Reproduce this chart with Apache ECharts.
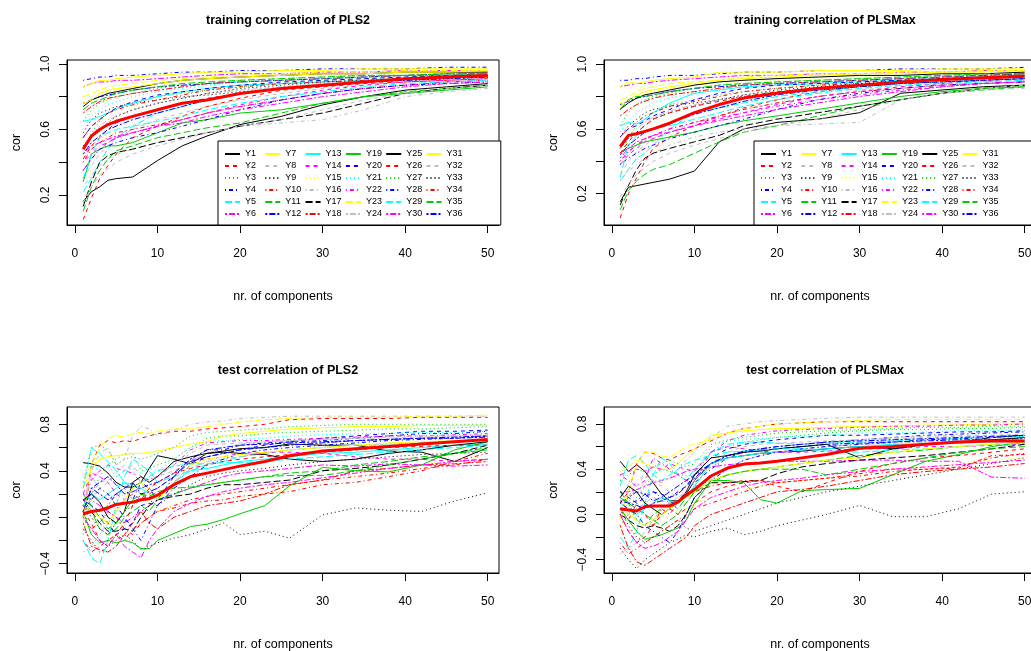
<!DOCTYPE html>
<html>
<head>
<meta charset="utf-8">
<script src="https://cdn.jsdelivr.net/npm/echarts@6/dist/echarts.min.js"></script>
<style>
html,body{margin:0;padding:0;background:#fff;}
#main{width:1031px;height:651px;}
</style>
</head>
<body>
<div id="main"></div>
<script>
var trainComp=[1,2,3,4,5,7,10,13,16,20,25,30,35,40,45,50];
var testComp=[1,2,3,4,5,6,7,8,9,10,12,14,16,18,20,23,26,30,34,38,42,46,50];
var xTicks=[0,10,20,30,40,50];
var trainTicks=[0.2,0.4,0.6,0.8,1.0];
var trainLabels=[0.2,0.6,1.0];
var testTicks=[-0.4,-0.2,0,0.2,0.4,0.6,0.8];
var testLabels=[-0.4,0,0.4,0.8];
var names=['Y1','Y2','Y3','Y4','Y5','Y6','Y7','Y8','Y9','Y10','Y11','Y12','Y13','Y14','Y15','Y16','Y17','Y18',
  'Y19','Y20','Y21','Y22','Y23','Y24','Y25','Y26','Y27','Y28','Y29','Y30','Y31','Y32','Y33','Y34','Y35','Y36'];
var panelTitles=['training correlation of PLS2','training correlation of PLSMax','test correlation of PLS2','test correlation of PLSMax'];

// R palette + lty cycle
var lineColors=['#000000','#FF0000','#00CD00','#0000FF','#00FFFF','#FF00FF','#FFFF00','#BEBEBE'];
var lineDash=['solid',[4,4],[1,3],[1,3,4,3],[7,3],[2,2,6,2]];

// training PLS2 (one row per response Y1..Y36)
var trainPLS2=[
[.16,.22,.25,.29,.30,.31,.41,.50,.56,.63,.68,.75,.80,.84,.86,.88],
[.05,.18,.30,.38,.45,.55,.62,.68,.74,.79,.84,.86,.88,.89,.90,.91],
[.45,.58,.65,.70,.72,.76,.80,.82,.84,.86,.88,.90,.91,.92,.93,.94],
[.90,.91,.92,.92,.93,.93,.94,.95,.95,.96,.96,.97,.97,.97,.98,.98],
[.22,.30,.40,.48,.55,.62,.70,.74,.78,.82,.85,.87,.89,.90,.91,.92],
[.86,.88,.89,.89,.90,.90,.91,.92,.93,.94,.94,.95,.95,.96,.96,.96],
[.86,.88,.90,.90,.91,.92,.93,.94,.95,.95,.96,.96,.97,.97,.97,.97],
[.30,.38,.45,.50,.55,.60,.66,.70,.74,.78,.82,.85,.87,.89,.90,.91],
[.58,.66,.70,.72,.74,.76,.78,.80,.81,.83,.85,.87,.89,.90,.91,.92],
[.40,.48,.52,.55,.58,.60,.63,.66,.70,.74,.78,.82,.85,.87,.89,.90],
[.10,.25,.35,.42,.47,.50,.55,.58,.61,.64,.70,.76,.80,.83,.85,.87],
[.76,.78,.80,.81,.82,.84,.86,.87,.88,.89,.90,.91,.92,.93,.94,.94],
[.65,.66,.68,.70,.73,.76,.80,.83,.85,.87,.88,.89,.90,.91,.92,.93],
[.35,.42,.48,.52,.55,.58,.62,.66,.70,.75,.80,.84,.87,.89,.90,.91],
[.78,.80,.82,.83,.84,.86,.88,.89,.90,.91,.92,.93,.93,.94,.94,.95],
[.25,.32,.38,.42,.45,.48,.52,.55,.58,.62,.64,.66,.72,.80,.83,.85],
[.13,.28,.40,.44,.46,.48,.52,.55,.58,.62,.66,.70,.76,.82,.85,.87],
[.70,.74,.77,.79,.80,.82,.84,.86,.88,.89,.90,.91,.92,.93,.93,.94],
[.28,.45,.48,.50,.50,.52,.58,.64,.66,.70,.72,.76,.80,.82,.84,.86],
[.55,.62,.66,.70,.73,.77,.81,.83,.85,.87,.89,.90,.91,.92,.93,.93],
[.60,.68,.72,.75,.77,.80,.83,.85,.87,.89,.90,.91,.92,.93,.93,.94],
[.40,.45,.50,.52,.55,.58,.62,.66,.70,.74,.78,.82,.85,.87,.89,.90],
[.80,.82,.84,.86,.87,.88,.90,.91,.92,.93,.94,.95,.95,.96,.96,.96],
[.50,.56,.62,.66,.68,.72,.76,.79,.82,.84,.86,.88,.90,.91,.92,.92],
[.74,.78,.80,.82,.83,.85,.88,.90,.91,.92,.93,.94,.94,.95,.95,.95],
[.42,.50,.55,.60,.64,.68,.72,.76,.79,.82,.85,.87,.89,.90,.91,.92],
[.65,.72,.76,.78,.80,.82,.85,.87,.88,.90,.91,.92,.93,.93,.94,.94],
[.35,.42,.48,.50,.52,.55,.58,.62,.66,.72,.78,.82,.85,.87,.88,.89],
[.30,.45,.55,.58,.60,.62,.65,.68,.72,.76,.80,.83,.86,.88,.89,.90],
[.45,.50,.52,.54,.56,.58,.62,.64,.68,.72,.76,.80,.83,.86,.88,.89],
[.76,.78,.82,.84,.85,.86,.88,.90,.91,.92,.93,.94,.94,.95,.95,.96],
[.15,.25,.32,.36,.40,.45,.50,.54,.58,.62,.66,.72,.78,.82,.85,.87],
[.50,.55,.60,.64,.68,.72,.76,.79,.82,.85,.87,.89,.90,.91,.92,.93],
[.55,.62,.66,.70,.72,.75,.78,.81,.84,.86,.88,.89,.90,.91,.92,.93],
[.72,.76,.78,.80,.82,.84,.86,.88,.89,.90,.91,.92,.93,.93,.94,.94],
[.45,.52,.56,.60,.62,.66,.70,.74,.78,.82,.85,.87,.89,.90,.91,.92]
];
var meanTrainPLS2=[.48,.56,.60,.63,.65,.68,.72,.76,.78,.82,.85,.87,.89,.91,.92,.93];

// training PLSMax
var trainPLSMax=[
[.15,.24,.25,.26,.27,.29,.34,.52,.60,.64,.66,.70,.82,.84,.86,.87],
[.05,.20,.30,.40,.48,.55,.62,.68,.73,.78,.83,.86,.88,.89,.90,.91],
[.42,.55,.62,.66,.70,.75,.78,.81,.83,.85,.87,.89,.90,.91,.92,.93],
[.90,.90,.91,.91,.92,.93,.93,.94,.95,.95,.96,.96,.97,.97,.97,.98],
[.28,.35,.42,.45,.50,.60,.70,.73,.76,.80,.83,.86,.88,.89,.90,.91],
[.86,.87,.88,.88,.89,.90,.91,.92,.93,.93,.94,.94,.95,.95,.96,.96],
[.86,.89,.88,.89,.90,.91,.92,.95,.95,.95,.96,.96,.96,.97,.97,.97],
[.32,.40,.46,.50,.54,.58,.64,.68,.72,.76,.80,.84,.86,.88,.89,.90],
[.55,.62,.66,.70,.72,.74,.76,.78,.80,.82,.84,.86,.88,.89,.90,.91],
[.40,.46,.50,.54,.56,.60,.64,.68,.72,.76,.80,.83,.85,.87,.88,.89],
[.10,.22,.28,.32,.35,.38,.45,.52,.58,.62,.68,.74,.78,.82,.84,.86],
[.75,.77,.79,.80,.81,.83,.85,.86,.87,.88,.89,.90,.91,.92,.93,.94],
[.62,.64,.63,.66,.70,.76,.82,.84,.86,.87,.88,.89,.90,.91,.92,.93],
[.38,.44,.48,.52,.54,.58,.62,.66,.70,.75,.80,.83,.86,.88,.90,.91],
[.76,.78,.80,.82,.83,.85,.87,.88,.89,.90,.91,.92,.93,.93,.94,.95],
[.28,.34,.38,.42,.45,.50,.55,.58,.60,.62,.63,.64,.78,.82,.84,.85],
[.13,.25,.35,.42,.45,.48,.52,.56,.62,.66,.70,.74,.78,.82,.85,.87],
[.68,.72,.75,.77,.79,.81,.83,.85,.87,.88,.89,.90,.91,.92,.93,.94],
[.45,.48,.50,.52,.53,.55,.58,.62,.65,.68,.72,.76,.80,.83,.85,.86],
[.55,.60,.62,.65,.68,.72,.78,.82,.85,.87,.88,.89,.90,.91,.92,.93],
[.58,.65,.70,.73,.76,.79,.82,.85,.87,.88,.89,.90,.91,.92,.93,.93],
[.40,.46,.50,.53,.56,.60,.64,.67,.70,.74,.78,.81,.84,.86,.88,.89],
[.78,.80,.83,.85,.86,.88,.89,.90,.92,.93,.94,.94,.95,.95,.96,.96],
[.48,.55,.60,.64,.67,.71,.75,.78,.81,.83,.85,.87,.89,.90,.91,.92],
[.72,.76,.79,.81,.82,.84,.87,.89,.90,.91,.92,.93,.93,.94,.94,.95],
[.45,.52,.58,.62,.66,.70,.74,.77,.80,.83,.85,.87,.89,.90,.91,.92],
[.62,.70,.75,.78,.80,.82,.85,.87,.88,.89,.90,.91,.92,.93,.93,.94],
[.38,.42,.45,.48,.50,.54,.58,.62,.66,.72,.78,.82,.85,.87,.88,.89],
[.30,.50,.56,.58,.60,.62,.66,.70,.74,.78,.82,.85,.87,.88,.89,.90],
[.42,.48,.52,.54,.56,.58,.62,.65,.68,.72,.76,.80,.83,.86,.88,.89],
[.74,.78,.81,.83,.84,.86,.88,.90,.91,.92,.93,.94,.94,.95,.95,.96],
[.18,.26,.32,.36,.40,.45,.50,.54,.58,.62,.66,.72,.78,.82,.85,.87],
[.48,.54,.58,.62,.66,.70,.74,.78,.81,.84,.86,.88,.90,.91,.92,.93],
[.55,.60,.64,.68,.70,.74,.77,.80,.83,.85,.87,.88,.89,.90,.91,.92],
[.72,.78,.80,.80,.81,.83,.85,.87,.88,.89,.90,.91,.92,.93,.94,.94],
[.44,.50,.54,.58,.60,.64,.69,.73,.77,.81,.84,.86,.88,.89,.90,.91]
];
var meanTrainPLSMax=[.49,.56,.57,.585,.60,.635,.70,.75,.79,.82,.85,.87,.89,.905,.915,.925];

// test PLS2
var testPLS2=[
[.47,.46,.44,.38,.30,.26,.26,.30,.42,.53,.50,.46,.55,.57,.59,.60,.63,.62,.62,.57,.56,.48,.60],
[.00,.45,.62,.66,.64,.66,.65,.68,.70,.72,.74,.74,.76,.77,.78,.80,.84,.85,.85,.85,.86,.86,.86],
[-.15,.20,.35,.45,.50,.55,.55,.40,.42,.45,.50,.60,.68,.70,.70,.72,.73,.74,.75,.76,.76,.77,.78],
[.15,.10,.05,.10,.20,.25,.15,.30,.25,.15,.35,.50,.58,.58,.62,.64,.65,.66,.68,.70,.72,.72,.74],
[-.20,-.35,-.40,-.20,.10,.35,.50,.45,.40,.30,.35,.40,.45,.48,.52,.55,.58,.60,.62,.62,.64,.65,.66],
[.20,.15,.10,.05,.00,-.05,.00,.05,.10,.15,.20,.25,.30,.35,.38,.40,.42,.45,.44,.46,.45,.44,.45],
[.25,.42,.50,.52,.53,.54,.55,.55,.56,.57,.60,.63,.65,.70,.72,.74,.76,.77,.78,.78,.79,.79,.79],
[.00,.20,.30,.32,.35,.40,.45,.35,.32,.35,.40,.48,.55,.60,.63,.65,.66,.67,.68,.68,.69,.70,.70],
[-.10,-.20,-.30,-.25,-.20,-.15,-.20,-.28,-.25,-.22,-.18,-.15,-.10,-.05,-.15,-.12,-.18,.02,.08,.06,.05,.14,.21],
[.00,-.10,-.05,.05,.00,-.10,-.15,-.05,.00,.05,.10,.15,.18,.20,.22,.25,.28,.32,.35,.38,.42,.45,.50],
[.15,.05,-.10,-.15,-.10,.00,.05,.10,.05,.15,.20,.25,.28,.30,.32,.35,.38,.40,.45,.48,.52,.55,.58],
[.05,.25,.30,.35,.28,.20,.22,.25,.28,.30,.38,.50,.58,.60,.62,.63,.64,.65,.66,.67,.68,.68,.69],
[.10,.20,.15,.20,.25,.30,.28,.25,.20,.15,.30,.40,.42,.45,.48,.50,.52,.55,.56,.58,.60,.62,.63],
[.20,.38,.35,.30,.20,.15,.20,.15,.20,.25,.35,.50,.50,.52,.55,.56,.56,.55,.52,.50,.50,.48,.50],
[-.10,-.05,.05,.10,.15,.20,.10,.05,.00,.05,.10,.12,.14,.15,.18,.20,.25,.30,.35,.40,.45,.50,.52],
[.10,.40,.55,.60,.45,.50,.70,.78,.76,.70,.75,.80,.82,.83,.85,.86,.87,.87,.87,.87,.87,.87,.87],
[.10,.05,-.05,-.12,-.12,-.10,-.12,.00,.10,.15,.18,.20,.25,.28,.28,.30,.32,.40,.42,.45,.50,.55,.62],
[-.05,-.25,-.28,-.30,-.25,-.15,-.05,.05,-.05,-.10,.00,.05,.10,.12,.14,.20,.28,.32,.40,.42,.45,.46,.48],
[.05,-.15,-.22,-.20,-.22,-.20,-.22,-.27,-.27,-.20,-.14,-.08,-.06,-.02,.03,.10,.27,.43,.40,.39,.45,.58,.65],
[.15,.10,.05,-.05,-.15,-.10,-.05,.10,.12,.10,.30,.45,.52,.55,.58,.62,.65,.68,.70,.72,.74,.74,.75],
[.35,.45,.40,.45,.35,.40,.42,.38,.42,.40,.50,.60,.65,.66,.67,.68,.70,.71,.72,.72,.73,.73,.74],
[.10,.32,.40,.45,.42,.40,.38,.30,.33,.35,.45,.58,.64,.65,.66,.66,.67,.68,.69,.70,.70,.71,.72],
[-.05,.45,.60,.68,.70,.69,.72,.73,.72,.74,.76,.76,.78,.80,.82,.84,.85,.86,.86,.86,.87,.87,.88],
[-.30,-.25,-.15,-.05,.05,.15,.25,.20,.18,.15,.30,.42,.48,.50,.52,.55,.58,.60,.62,.63,.64,.65,.66],
[.15,.20,.13,.00,-.05,.05,.30,.35,.30,.35,.48,.52,.55,.56,.55,.54,.50,.48,.50,.55,.58,.62,.65],
[.05,-.05,-.20,-.25,-.15,-.05,.10,.15,.25,.30,.38,.42,.45,.48,.50,.52,.54,.56,.58,.60,.61,.62,.62],
[.30,.60,.62,.58,.45,.50,.52,.50,.52,.55,.60,.70,.73,.74,.75,.76,.78,.79,.80,.80,.80,.80,.80],
[.05,.15,.25,.20,.10,.00,-.10,-.20,-.05,.10,.25,.35,.45,.50,.55,.58,.60,.62,.64,.66,.67,.68,.70],
[.25,.60,.55,.48,.40,.30,.25,.30,.35,.40,.44,.46,.46,.47,.47,.48,.50,.52,.54,.56,.58,.60,.62],
[.00,-.10,-.20,-.25,-.15,-.25,-.30,-.35,-.20,-.10,.05,.12,.18,.22,.25,.28,.30,.34,.38,.42,.45,.48,.50],
[.10,.05,.00,-.05,.05,.15,.25,.30,.20,.15,.30,.45,.50,.52,.54,.56,.58,.60,.62,.64,.65,.66,.67],
[.05,.35,.25,.30,.38,.45,.40,.30,.32,.35,.45,.55,.62,.63,.64,.65,.66,.67,.68,.69,.70,.70,.71],
[.10,.00,-.10,-.15,-.05,.05,.10,.20,.15,.10,.20,.28,.35,.38,.40,.42,.45,.48,.50,.52,.54,.55,.56],
[-.20,-.30,-.25,-.20,-.15,-.20,-.10,-.05,.00,.05,.08,.12,.14,.15,.18,.20,.22,.28,.30,.35,.40,.48,.55],
[.20,.10,.00,-.10,-.05,.05,.15,.20,.18,.22,.25,.26,.28,.30,.32,.35,.36,.36,.40,.45,.50,.55,.60],
[.05,.25,.20,.15,.20,.25,.30,.20,.22,.25,.35,.48,.52,.55,.58,.60,.62,.64,.66,.67,.68,.69,.70]
];
var meanTestPLS2=[.03,.05,.06,.08,.11,.12,.13,.15,.16,.19,.28,.35,.38,.41,.44,.48,.53,.57,.59,.61,.63,.65,.67];

// test PLSMax
var testPLSMax=[
[.47,.38,.44,.38,.28,.18,.12,.12,.18,.30,.45,.50,.52,.54,.55,.56,.58,.60,.58,.62,.64,.68,.70],
[.10,.20,.45,.55,.54,.50,.48,.52,.55,.58,.65,.72,.76,.78,.80,.81,.82,.82,.82,.82,.82,.82,.82],
[-.10,.00,.15,.25,.35,.40,.38,.36,.34,.35,.55,.60,.64,.66,.68,.70,.72,.74,.75,.75,.76,.76,.77],
[.15,.10,.12,.18,.20,.15,.10,.12,.20,.28,.40,.50,.55,.58,.60,.62,.64,.66,.68,.70,.71,.72,.73],
[-.20,-.30,-.15,.10,.35,.50,.45,.35,.30,.40,.55,.62,.64,.64,.63,.62,.63,.64,.65,.66,.67,.68,.69],
[.20,.20,.22,.25,.28,.30,.32,.35,.38,.40,.42,.44,.45,.46,.47,.47,.47,.48,.48,.47,.47,.33,.32],
[.38,.42,.48,.45,.42,.40,.40,.45,.52,.58,.70,.72,.74,.75,.76,.76,.77,.78,.78,.79,.79,.80,.80],
[.00,.10,.25,.35,.30,.25,.20,.15,.20,.30,.42,.50,.55,.58,.60,.62,.64,.66,.68,.69,.70,.70,.71],
[-.30,-.40,-.48,-.40,-.35,-.30,-.25,-.22,-.18,-.20,-.15,-.12,-.18,-.15,-.10,-.05,.00,.08,-.02,-.02,.05,.18,.20],
[.05,-.05,.10,.00,-.10,.05,.00,.10,.15,.20,.25,.28,.30,.30,.28,.30,.32,.36,.40,.40,.41,.52,.53],
[.20,.10,-.05,-.10,.00,.05,.10,.05,.15,.25,.30,.35,.38,.40,.42,.45,.48,.52,.55,.57,.60,.62,.64],
[.10,.15,.20,.18,.12,.15,.20,.25,.30,.35,.45,.52,.55,.57,.58,.60,.62,.63,.64,.65,.66,.66,.67],
[.10,.05,.00,.05,.10,.15,.12,.10,.15,.25,.45,.50,.52,.54,.55,.57,.58,.60,.62,.62,.63,.64,.65],
[.35,.38,.40,.38,.42,.40,.45,.42,.40,.38,.55,.60,.58,.56,.55,.55,.56,.58,.58,.60,.60,.61,.62],
[-.15,-.05,.05,.10,.05,.00,-.05,.00,.05,.10,.15,.20,.22,.25,.28,.30,.32,.35,.40,.42,.45,.48,.50],
[.05,.15,.30,.35,.30,.28,.32,.40,.48,.55,.68,.78,.80,.82,.83,.84,.85,.86,.86,.86,.86,.86,.86],
[.00,-.05,-.10,-.12,-.10,-.12,-.15,-.10,.00,.15,.28,.28,.29,.30,.36,.42,.45,.48,.50,.52,.55,.58,.62],
[-.10,-.30,-.42,-.45,-.40,-.35,-.30,-.25,-.20,-.10,.00,.05,.10,.15,.20,.22,.25,.30,.35,.38,.40,.42,.45],
[.05,-.05,-.15,-.22,-.20,-.18,-.15,-.12,-.05,.10,.30,.30,.28,.13,.10,.21,.22,.23,.35,.47,.53,.60,.64],
[.20,.15,.10,.15,.20,.18,.15,.20,.25,.35,.50,.58,.62,.64,.66,.68,.70,.70,.71,.72,.73,.73,.74],
[.30,.25,.20,.28,.35,.40,.38,.35,.30,.35,.60,.65,.66,.67,.68,.69,.70,.72,.72,.73,.74,.74,.75],
[.35,.30,.25,.30,.50,.45,.40,.35,.30,.30,.55,.65,.70,.72,.74,.75,.76,.77,.78,.78,.79,.79,.80],
[-.05,.20,.45,.55,.55,.52,.50,.55,.60,.62,.66,.72,.76,.78,.80,.81,.82,.83,.84,.84,.84,.84,.84],
[-.35,-.30,-.25,-.15,-.05,.05,.10,.05,.10,.20,.35,.42,.48,.52,.55,.58,.60,.62,.63,.64,.65,.66,.66],
[.15,.25,.20,.10,.05,.00,.05,.10,.20,.35,.50,.52,.55,.56,.58,.60,.62,.50,.58,.62,.64,.66,.68],
[.00,-.15,-.25,-.20,-.10,.00,.05,.00,.05,.10,.20,.25,.28,.30,.25,.20,.28,.38,.45,.50,.52,.55,.58],
[.30,.35,.40,.38,.42,.45,.48,.45,.42,.45,.62,.66,.68,.70,.72,.73,.74,.75,.76,.77,.77,.78,.78],
[.10,.05,.00,-.10,-.15,-.20,-.25,-.15,.00,.15,.30,.40,.48,.52,.55,.58,.60,.62,.64,.66,.67,.68,.70],
[.25,.48,.52,.45,.35,.30,.35,.40,.45,.48,.52,.55,.56,.57,.58,.58,.56,.55,.57,.58,.60,.62,.63],
[.00,-.15,-.25,-.30,-.28,-.25,-.20,-.15,-.05,.05,.15,.20,.25,.28,.30,.32,.35,.38,.40,.42,.44,.46,.48],
[.05,.00,-.05,-.10,-.05,.00,.05,.10,.15,.20,.30,.35,.38,.40,.42,.45,.48,.50,.55,.58,.60,.62,.64],
[.05,.00,.05,.10,.15,.12,.10,.15,.20,.30,.45,.55,.60,.62,.63,.64,.65,.66,.67,.68,.69,.70,.70],
[.05,-.10,-.20,-.25,-.20,-.15,-.10,-.05,-.12,-.15,-.10,-.05,.00,.05,.10,.15,.20,.25,.30,.35,.40,.45,.50],
[-.25,-.35,-.30,-.25,-.20,-.15,-.10,-.05,.00,.05,.10,.15,.20,.25,.28,.30,.32,.34,.38,.40,.42,.50,.54],
[.15,.10,.05,.00,-.05,-.10,-.05,.00,.10,.20,.28,.35,.38,.40,.40,.40,.35,.40,.45,.50,.55,.58,.60],
[.12,.10,.08,.05,.10,.12,.15,.18,.25,.32,.45,.52,.56,.58,.60,.62,.64,.65,.66,.67,.68,.69,.70]
];
var meanTestPLSMax=[.05,.04,.03,.07,.075,.075,.075,.11,.17,.22,.34,.41,.445,.455,.47,.50,.53,.585,.60,.62,.64,.65,.65];

var font='"Liberation Sans", Arial, sans-serif';

function panelSeries(rows, mean, comps, idx){
    var out=[];
    rows.forEach(function(r,i){
        out.push({
            name:names[i],
            type:'line',
            xAxisIndex:idx,
            yAxisIndex:idx,
            symbol:'none',
            silent:true,
            z:2,
            lineStyle:{color:lineColors[i%8],width:1,type:lineDash[i%6]},
            itemStyle:{color:lineColors[i%8]},
            data:comps.map(function(c,j){return [c,r[j]];})
        });
    });
    // thick red mean curve
    out.push({
        name:'mean',
        type:'line',
        xAxisIndex:idx,
        yAxisIndex:idx,
        symbol:'none',
        silent:true,
        z:3,
        lineStyle:{color:'#FF0000',width:3},
        data:comps.map(function(c,j){return [c,mean[j]];})
    });
    return out;
}

function xAx(idx){
    return {
        type:'value',gridIndex:idx,min:-0.96,max:51.37,
        name:'nr. of components',nameLocation:'middle',nameGap:65,
        nameTextStyle:{fontSize:12.5,color:'#000',fontFamily:font},
        axisLine:{show:true,onZero:false,lineStyle:{color:'#000',width:1}},
        axisTick:{show:true,length:8,customValues:xTicks,lineStyle:{color:'#000'}},
        axisLabel:{customValues:xTicks,margin:23,fontSize:12,color:'#000',fontFamily:font},
        splitLine:{show:false}
    };
}

function yAx(idx,min,max,ticks,labels){
    return {
        type:'value',gridIndex:idx,min:min,max:max,
        name:'cor',nameLocation:'middle',nameGap:44,nameRotate:90,
        nameTextStyle:{fontSize:12.5,color:'#000',fontFamily:font},
        axisLine:{show:true,onZero:false,lineStyle:{color:'#000',width:1}},
        axisTick:{show:true,length:8,customValues:ticks,lineStyle:{color:'#000'}},
        axisLabel:{customValues:labels,rotate:90,margin:15,fontSize:12,color:'#000',fontFamily:font,
            formatter:function(v){return v.toFixed(1).replace('-','\u2212');}},
        splitLine:{show:false}
    };
}

function legendAt(left){
    return {
        data:names,
        orient:'vertical',
        left:left,top:141,
        height:74,
        padding:[8,37,6,6],
        itemGap:2,
        itemWidth:15,
        itemHeight:10,
        selectedMode:false,
        borderColor:'#000',
        borderWidth:1,
        borderRadius:0,
        backgroundColor:'#fff',
        itemStyle:{opacity:0},
        textStyle:{fontSize:9,color:'#000',fontFamily:font,width:17.3,lineHeight:10}
    };
}

var gridBox={show:true,borderColor:'#000',borderWidth:1,backgroundColor:'transparent',outerBoundsMode:'none',containLabel:false};
var titleStyle={fontSize:12.5,fontWeight:'bold',color:'#000',fontFamily:font};

var option={
    animation:false,
    backgroundColor:'#fff',
    textStyle:{fontFamily:font},
    title:[
        {text:panelTitles[0],left:283,top:9,textAlign:'center',textStyle:titleStyle},
        {text:panelTitles[1],left:820,top:9,textAlign:'center',textStyle:titleStyle},
        {text:panelTitles[2],left:283,top:359,textAlign:'center',textStyle:titleStyle},
        {text:panelTitles[3],left:820,top:359,textAlign:'center',textStyle:titleStyle}
    ],
    legend:[legendAt(218),legendAt(754)],
    grid:[
        Object.assign({left:67,top:60,width:432,height:165},gridBox),
        Object.assign({left:604,top:60,width:432,height:165},gridBox),
        Object.assign({left:67,top:407,width:432,height:166},gridBox),
        Object.assign({left:604,top:407,width:432,height:166},gridBox)
    ],
    xAxis:[xAx(0),xAx(1),xAx(2),xAx(3)],
    yAxis:[
        yAx(0,0.017,1.024,trainTicks,trainLabels),
        yAx(1,0.007,1.025,trainTicks,trainLabels),
        yAx(2,-0.48,0.949,testTicks,testLabels),
        yAx(3,-0.518,0.950,testTicks,testLabels)
    ],
    series:[].concat(
        panelSeries(trainPLS2,meanTrainPLS2,trainComp,0),
        panelSeries(trainPLSMax,meanTrainPLSMax,trainComp,1),
        panelSeries(testPLS2,meanTestPLS2,testComp,2),
        panelSeries(testPLSMax,meanTestPLSMax,testComp,3)
    )
};

var myChart=echarts.init(document.getElementById('main'));
myChart.setOption(option);
</script>
</body>
</html>
